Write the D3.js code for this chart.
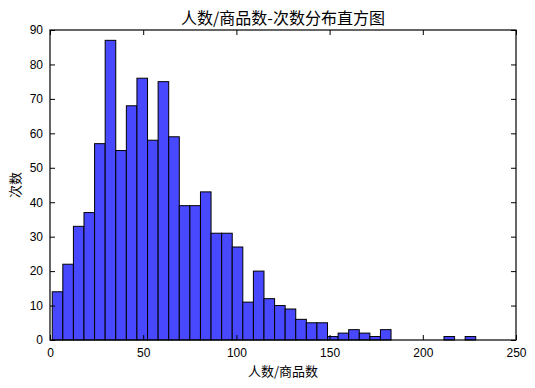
<!DOCTYPE html>
<html>
<head>
<meta charset="utf-8">
<script src="https://cdn.jsdelivr.net/npm/d3@7"></script>
<style>
  body { margin: 0; background: #fff; }
  text { font-family: "Liberation Sans", Arial, sans-serif; }
  .cjk { font-family: "Noto Sans CJK SC", sans-serif; }
</style>
</head>
<body>
<svg id="chart" width="535" height="388"></svg>
<script>
// histogram: 40 bins between binMin and binMax
const binMin = 1.2;
const binMax = 228.4;
const counts = [14, 22, 33, 37, 57, 87, 55, 68, 76, 58,
                75, 59, 39, 39, 43, 31, 31, 27, 11, 20,
                12, 10, 9, 6, 5, 5, 1, 2, 3, 2,
                1, 3, 0, 0, 0, 0, 0, 1, 0, 1];
const xTicks = [0, 50, 100, 150, 200, 250];
const yTicks = [0, 10, 20, 30, 40, 50, 60, 70, 80, 90];

const margin = { top: 30, right: 19, bottom: 48, left: 50 };
const W = 535, H = 388;
const width = W - margin.left - margin.right;
const height = H - margin.top - margin.bottom;

const svg = d3.select("#chart");
const g = svg.append("g")
  .attr("transform", "translate(" + margin.left + "," + margin.top + ")");

const x = d3.scaleLinear().domain([0, 250]).range([0, width]);
const y = d3.scaleLinear().domain([0, 90]).range([height, 0]);

const step = (binMax - binMin) / counts.length;
const bins = counts.map((c, i) => ({ x0: binMin + i * step, x1: binMin + (i + 1) * step, n: c }));

// bars
g.append("g")
  .selectAll("rect")
  .data(bins.filter(d => d.n > 0))
  .enter()
  .append("rect")
  .attr("x", d => x(d.x0))
  .attr("y", d => y(d.n))
  .attr("width", d => x(d.x1) - x(d.x0))
  .attr("height", d => y(0) - y(d.n))
  .attr("fill", "#4848ff")
  .attr("stroke", "#000")
  .attr("stroke-width", 1);

// axes, ticks pointing inward
const tickLen = 5;
g.append("g")
  .attr("transform", "translate(0," + height + ")")
  .call(d3.axisBottom(x).tickValues(xTicks).tickSizeInner(-tickLen).tickSizeOuter(0).tickPadding(8))
  .call(a => a.select(".domain").remove());
g.append("g")
  .call(d3.axisTop(x).tickValues(xTicks).tickSizeInner(-tickLen).tickSizeOuter(0).tickFormat(""))
  .call(a => a.select(".domain").remove());
g.append("g")
  .call(d3.axisLeft(y).tickValues(yTicks).tickSizeInner(-tickLen).tickSizeOuter(0).tickPadding(7))
  .call(a => a.select(".domain").remove());
g.append("g")
  .attr("transform", "translate(" + width + ",0)")
  .call(d3.axisRight(y).tickValues(yTicks).tickSizeInner(-tickLen).tickSizeOuter(0).tickFormat(""))
  .call(a => a.select(".domain").remove());

g.selectAll(".tick text")
  .attr("font-family", "Liberation Sans, Arial, sans-serif")
  .attr("font-size", 12)
  .attr("fill", "#000");
g.selectAll(".tick line").attr("stroke", "#000");

// frame
g.append("rect")
  .attr("width", width)
  .attr("height", height)
  .attr("fill", "none")
  .attr("stroke", "#000")
  .attr("stroke-width", 1.2);

// labels
svg.append("text")
  .classed("cjk", true)
  .attr("x", margin.left + width / 2)
  .attr("y", 24)
  .attr("text-anchor", "middle")
  .attr("font-size", 16)
  .text("人数/商品数-次数分布直方图");

svg.append("text")
  .classed("cjk", true)
  .attr("x", margin.left + width / 2)
  .attr("y", 376)
  .attr("text-anchor", "middle")
  .attr("font-size", 13)
  .text("人数/商品数");

svg.append("text")
  .classed("cjk", true)
  .attr("transform", "translate(20," + (margin.top + height / 2) + ") rotate(-90)")
  .attr("text-anchor", "middle")
  .attr("font-size", 13)
  .text("次数");
</script>
</body>
</html>
